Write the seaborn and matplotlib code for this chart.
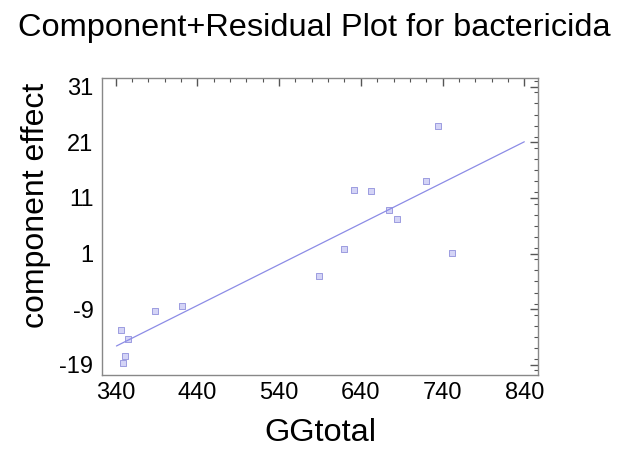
import seaborn as sns
import pandas as pd
import matplotlib.pyplot as plt
from matplotlib.ticker import MultipleLocator

# points
gg_total = [346, 355, 351, 349, 388, 421, 589, 620, 632, 652, 675, 684, 720, 735, 752]
comp_effect = [-12.7, -14.4, -17.4, -18.7, -9.4, -8.5, -3.0, 1.8, 12.4, 12.3, 8.8, 7.3, 14.1, 23.9, 1.2]

# fitted component line
line_x = [341, 840]
line_y = [-15.6, 21.1]

x_ticks = [340, 440, 540, 640, 740, 840]
y_ticks = [-19, -9, 1, 11, 21, 31]

df = pd.DataFrame({"GGtotal": gg_total, "effect": comp_effect})
df_line = pd.DataFrame({"GGtotal": line_x, "effect": line_y})

sns.set_theme(style="white")
plt.rcParams['font.family'] = ['Liberation Sans', 'DejaVu Sans']
plt.rcParams['axes.unicode_minus'] = False
plt.rcParams['text.color'] = 'black'
plt.rcParams['axes.labelcolor'] = 'black'
plt.rcParams['xtick.labelcolor'] = 'black'
plt.rcParams['ytick.labelcolor'] = 'black'

fig = plt.figure(figsize=(6.28, 4.55), dpi=100)
ax = fig.add_axes([0.162, 0.176, 0.695, 0.653])

sns.lineplot(data=df_line, x="GGtotal", y="effect", ax=ax, color="#8c8ce6", linewidth=0.9)
sns.scatterplot(data=df, x="GGtotal", y="effect", ax=ax, marker="s", s=13,
                facecolor="#d4d4f6", edgecolor="#9090dc", linewidth=0.6)

ax.set_xlim(323, 857)
ax.set_ylim(-20.8, 32.6)
ax.set_xticks(x_ticks)
ax.set_yticks(y_ticks)
ax.xaxis.set_minor_locator(MultipleLocator(20))
ax.yaxis.set_minor_locator(MultipleLocator(2))
ax.tick_params(which="both", direction="in", top=True, right=True, color="#555555")
ax.tick_params(which="major", length=6, width=1, labelsize=17)
ax.tick_params(axis="x", which="major", pad=5)
ax.tick_params(axis="y", which="major", pad=6)
ax.tick_params(which="minor", length=3, width=0.8)
for s in ax.spines.values():
    s.set_color("#888888")
    s.set_linewidth(1)

ax.set_xlabel("GGtotal", fontsize=23.4, labelpad=10)
ax.set_ylabel("component effect", fontsize=23, labelpad=6)
ax.yaxis.label.set_y(0.569)
fig.suptitle("Component+Residual Plot for bactericida", fontsize=23.4, x=0.5, y=0.972)

plt.savefig("out.png", dpi=100)
